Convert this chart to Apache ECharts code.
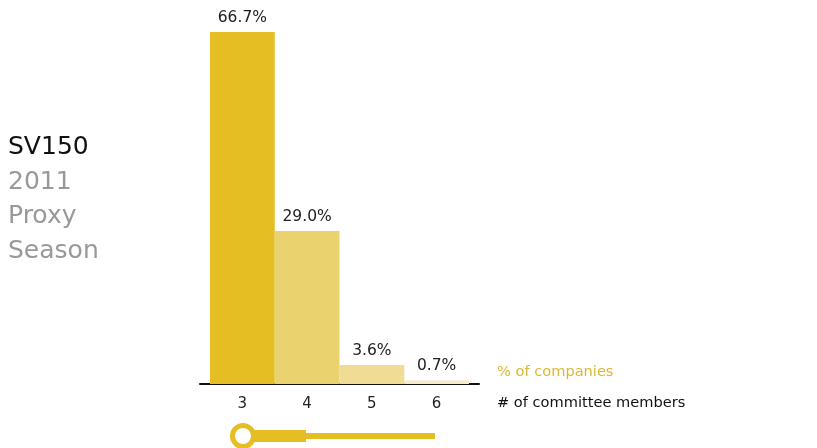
<!DOCTYPE html>
<html><head><meta charset="utf-8">
<script src="https://cdn.jsdelivr.net/npm/echarts@6/dist/echarts.min.js"></script>
<style>html,body{margin:0;padding:0;background:#fff}#c{width:817px;height:448px}</style>
</head><body><div id="c"></div>
<script>
const categories = ['3', '4', '5', '6'];
const pctCompanies = [66.7, 29.0, 3.6, 0.7];
const barColors = ['#E4BE22', '#EAD26F', '#F0DC95', '#F6EBCB'];
const titleLines = ['SV150', '2011', 'Proxy', 'Season'];
const FONT = '"DejaVu Sans", sans-serif';

const chart = echarts.init(document.getElementById('c'), null, {renderer: 'canvas'});
chart.setOption({
  animation: false,
  grid: [
    {left: 210, width: 259, top: 32, bottom: 64},
    {left: 200, width: 279, top: 32, bottom: 64}
  ],
  xAxis: [
    {type: 'category', gridIndex: 0, data: categories,
     axisLine: {show: false}, axisTick: {show: false},
     axisLabel: {color: '#222', fontSize: 15, fontFamily: FONT, margin: 13}},
    {type: 'value', gridIndex: 1, min: 0, max: 1,
     axisLine: {show: true, lineStyle: {color: '#111', width: 2}},
     axisTick: {show: false}, axisLabel: {show: false}, splitLine: {show: false}}
  ],
  yAxis: [
    {type: 'value', gridIndex: 0, min: 0, max: 'dataMax', show: false, splitLine: {show: false}},
    {type: 'value', gridIndex: 1, min: 0, max: 1, show: false, splitLine: {show: false}}
  ],
  series: [{
    type: 'bar', xAxisIndex: 0, yAxisIndex: 0,
    barCategoryGap: 0,
    data: pctCompanies.map((v, i) => ({value: v, itemStyle: {color: barColors[i]}})),
    label: {show: true, position: 'top', distance: 6, color: '#222', fontSize: 15.5, fontFamily: FONT,
            formatter: p => p.value.toFixed(1) + '%'}
  }],
  graphic: titleLines.map((t, i) => ({
      type: 'text', x: 8, y: 135 + i * 34.7,
      style: {text: t, fill: i === 0 ? '#111' : '#999', fontSize: 25, fontFamily: FONT}
    })).concat([
    {type: 'text', x: 497, y: 365, style: {text: '% of companies', fill: '#DDB733', fontSize: 14.6, fontFamily: FONT}},
    {type: 'text', x: 497, y: 396, style: {text: '# of committee members', fill: '#111', fontSize: 14.6, fontFamily: FONT}},
    {type: 'rect', shape: {x: 250, y: 430, width: 56, height: 12}, style: {fill: '#E4BE22'}},
    {type: 'rect', shape: {x: 306, y: 433, width: 129, height: 6}, style: {fill: '#E4BE22'}},
    {type: 'circle', shape: {cx: 243, cy: 436, r: 10.5}, style: {fill: '#fff', stroke: '#E4BE22', lineWidth: 5}}
  ])
});
</script></body></html>
